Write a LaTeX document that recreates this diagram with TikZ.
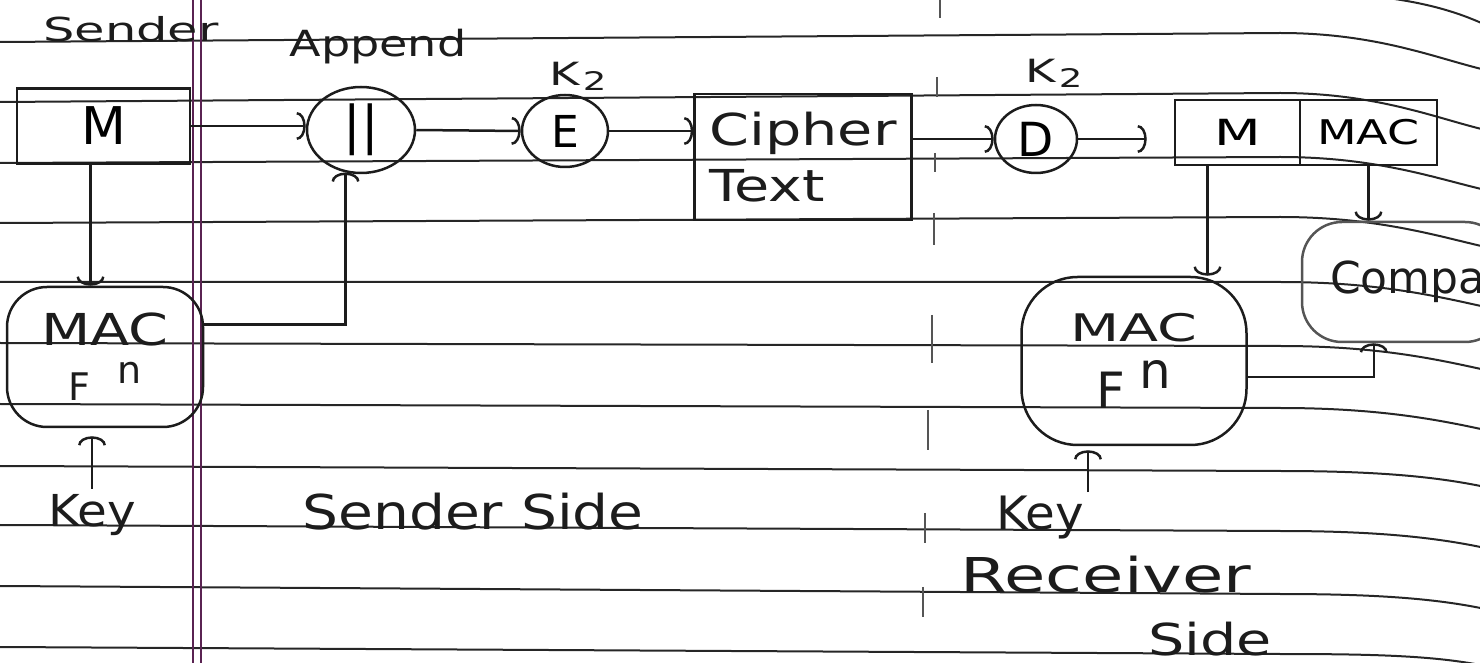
\documentclass[tikz,border=0pt]{standalone}
\usepackage{fontspec}
\setmainfont{DejaVu Sans}
\usetikzlibrary{arrows.meta,shapes.geometric,calc}
\newcommand\fsz[1]{\fontsize{#1}{#1}\selectfont}
\newcommand\wide[2]{\scalebox{#1}[1]{#2}}
\definecolor{ink}{HTML}{1C1C1C}
\definecolor{rulec}{HTML}{262626}
\definecolor{marginc}{HTML}{5A2352}
\definecolor{foldc}{HTML}{555555}
\begin{document}
\begin{tikzpicture}[x=0.5pt,y=-0.5pt,
  pen/.style={draw=ink,line width=1.25pt},
  arr/.style={draw=ink,line width=1.25pt,-{Arc Barb[width=14pt,length=4.5pt]}},
  ruled/.style={draw=rulec,line width=1pt},
  marginline/.style={draw=marginc,line width=0.9pt},
  fold/.style={draw=foldc,line width=0.6pt},
  word/.style={text=ink,inner sep=0pt,anchor=base},
  frame/.style={pen,rectangle,inner sep=0pt},
  ring/.style={pen,ellipse,inner sep=0pt},
  blob/.style={pen,rectangle,inner sep=0pt,align=center,text=ink}]
\useasboundingbox (0,0) rectangle (1480,663);
\clip (0,0) rectangle (1480,663);

% ruled notebook lines, curling down at the right edge
\foreach \ya/\yb/\yc in {42/33/68, 102/93/128, 163/157/188, 223/217/245,
    282/282/305, 343/346/368, 404/408/428, 466/471/485, 525/531/546,
    586/594/607, 647/654/664}
  \draw[ruled] (0,\ya) -- (1280,\yb) .. controls (1380,\yb) and (1440,\yc-8) .. (1490,\yc+3);
\draw[ruled] (1380,-3) .. controls (1420,2) and (1455,10) .. (1490,27);

% double margin line
\draw[marginline] (193,0) -- (193,663);
\draw[marginline] (201,0) -- (201,663);

% faint fold line down the middle of the page
\foreach \fx/\fa/\fb in {940/0/18, 937/77/97, 935/153/172, 934/213/245,
    932/315/363, 928/410/450, 925/513/543, 923/587/617}
  \draw[fold] (\fx,\fa) -- (\fx,\fb);

% ---------- sender side ----------
\node[word] (tSender) at (131,42) {\fsz{16.5pt}\wide{1.5}{Sender}};
\node[word] (tAppend) at (378,57) {\fsz{18pt}\wide{1.28}{Append}};

\node[frame,minimum width=86.5pt,minimum height=37.5pt] (mS) at (103.5,126) {\fsz{26pt}M};
\node[ring,minimum width=54pt,minimum height=43pt] (app) at (361,130) {\fsz{26pt}||};
\node[ring,minimum width=43pt,minimum height=36pt] (enc) at (565,131) {\fsz{22pt}E};
\node[word] (kE) at (578,86) {\fsz{16pt}\wide{1.45}{K\kern1pt\raisebox{-2.5pt}{\scalebox{0.8}{2}}}};
\node[frame,minimum width=108.5pt,minimum height=63pt,align=left,text=ink,
      font=\fontsize{22pt}{28pt}\selectfont] (ct) at (803,157)
      {\wide{1.3}{Cipher}\\\wide{1.3}{Text}};

\node[blob,rounded corners=20pt,minimum width=98pt,minimum height=70pt,
      font=\fontsize{22pt}{27.5pt}\selectfont] (macS) at (105,357)
      {{\fsz{22pt}\wide{1.3}{MAC}}\\{\fsz{19pt}F\kern13.5pt\raisebox{8.5pt}{n}}};
\node[word] (keyS) at (92,527) {\fsz{22pt}\wide{1.1}{Key}};
\node[word] (tSenderSide) at (473,530) {\fsz{24pt}\wide{1.18}{Sender Side}};

\draw[arr] (mS.east) -- (mS.east -| app.west);
\draw[arr] (app.east) -- (enc.west);
\draw[arr] (enc.east) -- (enc.east -| ct.west);
\coordinate (mSd) at ($(mS.south)+(-13,0)$);
\draw[arr] (mSd) -- (mSd |- macS.north);
\draw[arr,shorten <=3pt,shorten >=4pt] (keyS.north) -- (keyS.north |- macS.south);
\draw[arr] (macS.18) -| (app.250);

% ---------- receiver side ----------
\node[ring,minimum width=41pt,minimum height=34pt] (dec) at (1036,139) {\fsz{23.5pt}D};
\node[word] (kD) at (1054,83) {\fsz{16pt}\wide{1.45}{K\kern1pt\raisebox{-2.5pt}{\scalebox{0.8}{2}}}};
\node[frame,minimum width=62.5pt,minimum height=32.5pt] (mR) at (1237.5,132.5) {\fsz{18pt}\wide{1.5}{M}};
\node[frame,minimum width=68.5pt,minimum height=32.5pt] (macC) at (1368.5,132.5)
      {\raisebox{-4pt}{\fsz{17pt}\wide{1.35}{MAC}}};

\node[blob,rounded corners=28pt,minimum width=112.5pt,minimum height=84pt,
      font=\fontsize{19pt}{33.5pt}\selectfont] (macR) at (1134,361)
      {{\fsz{19pt}\wide{1.5}{MAC}}\\{\fsz{25pt}F\kern7pt\raisebox{10pt}{n}}};
\node[blob,draw=ink!75,rounded corners=20pt,minimum width=101.5pt,minimum height=60pt] (cmp) at (1403.5,282)
      {\makebox[101.5pt][l]{\hspace{14pt}\fsz{22pt}Compare}};

\node[word] (keyR) at (1040,530) {\fsz{23pt}\wide{1.05}{Key}};
\node[word] (tReceiver) at (1106,593) {\fsz{24pt}\wide{1.4}{Receiver}};
\node[word] (tSide) at (1210,655) {\fsz{22pt}\wide{1.3}{Side}};

\draw[arr] (ct.east |- dec.west) -- (dec.west);
\draw[arr,shorten >=13.5pt] (dec.east) -- (dec.east -| mR.west);
\coordinate (mRd) at ($(mR.south)+(-30,0)$);
\draw[arr] (mRd) -- (mRd |- macR.north);
\draw[arr] (macC.south) -- (macC.south |- cmp.north);
\coordinate (cmpIn) at ($(cmp.south west)+(73,0)$);
\draw[arr] (macR.-8) -| (cmpIn);
\coordinate (kR) at ($(keyR.north)+(48,0)$);
\draw[arr,shorten <=2pt,shorten >=2pt] (kR) -- (kR |- macR.south);
\end{tikzpicture}
\end{document}
